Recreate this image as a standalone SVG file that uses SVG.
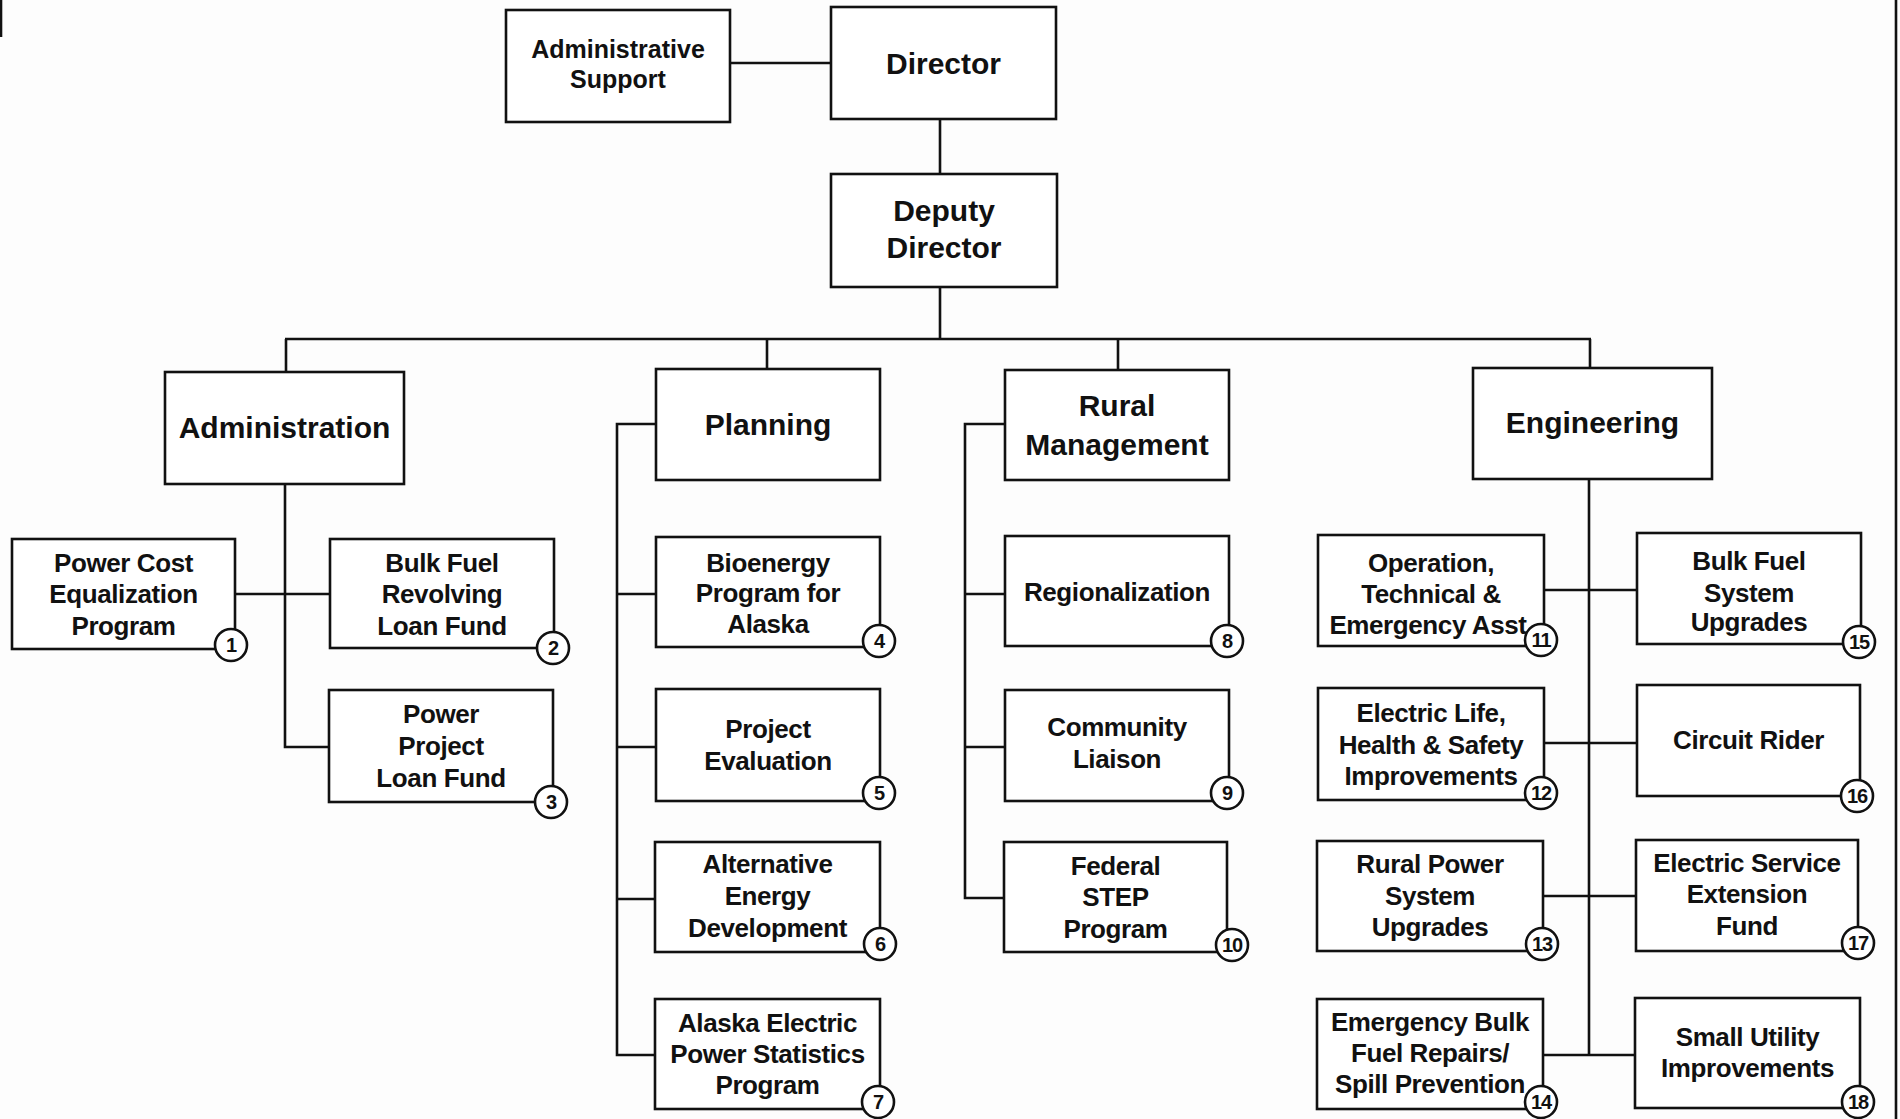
<svg xmlns="http://www.w3.org/2000/svg" width="1900" height="1119" viewBox="0 0 1900 1119">
<style>
.box{fill:#fff;stroke:#111;stroke-width:2.6}
.ln{fill:none;stroke:#111;stroke-width:2.6}
.hdr{font-family:"Liberation Sans",Arial,sans-serif;font-weight:bold;font-size:30px;fill:#111;text-anchor:middle}
.sup{font-family:"Liberation Sans",Arial,sans-serif;font-weight:bold;font-size:25px;fill:#111;text-anchor:middle}
.lbl{font-family:"Liberation Sans",Arial,sans-serif;font-weight:bold;font-size:26px;letter-spacing:-0.4px;fill:#111;text-anchor:middle}
.bc{fill:#fff;stroke:#111;stroke-width:2.6}
.num{font-family:"Liberation Sans",Arial,sans-serif;font-weight:bold;font-size:20px;letter-spacing:-1px;fill:#111;text-anchor:middle}
</style>
<rect x="0" y="0" width="1900" height="1119" fill="#fdfdfd"/>
<g id="edges">
<line class="ln" x1="1" y1="0" x2="1" y2="37" stroke-width="3"/>
<line class="ln" x1="1896" y1="0" x2="1896" y2="1119" stroke-width="2"/>
</g>
<g id="connectors">
<line class="ln" x1="730" y1="63" x2="831" y2="63"/>
<line class="ln" x1="940" y1="119" x2="940" y2="174"/>
<line class="ln" x1="940" y1="287" x2="940" y2="339"/>
<line class="ln" x1="285" y1="339" x2="1591" y2="339"/>
<line class="ln" x1="286" y1="339" x2="286" y2="372"/>
<line class="ln" x1="767" y1="339" x2="767" y2="369"/>
<line class="ln" x1="1118" y1="339" x2="1118" y2="370"/>
<line class="ln" x1="1590" y1="339" x2="1590" y2="368"/>
<polyline class="ln" points="285,484 285,747 329,747"/>
<line class="ln" x1="235" y1="594" x2="330" y2="594"/>
<polyline class="ln" points="656,424 617,424 617,1055 655,1055"/>
<line class="ln" x1="617" y1="594" x2="656" y2="594"/>
<line class="ln" x1="617" y1="747" x2="656" y2="747"/>
<line class="ln" x1="617" y1="899" x2="655" y2="899"/>
<polyline class="ln" points="1005,424 965,424 965,898 1004,898"/>
<line class="ln" x1="965" y1="594" x2="1005" y2="594"/>
<line class="ln" x1="965" y1="747" x2="1005" y2="747"/>
<line class="ln" x1="1589" y1="479" x2="1589" y2="1055"/>
<line class="ln" x1="1544" y1="590" x2="1637" y2="590"/>
<line class="ln" x1="1544" y1="743" x2="1637" y2="743"/>
<line class="ln" x1="1543" y1="896" x2="1636" y2="896"/>
<line class="ln" x1="1543" y1="1055" x2="1635" y2="1055"/>
</g>
<g id="admin-support"><rect class="box" x="506" y="10" width="224" height="112"/><text class="sup" x="618" y="58">Administrative</text><text class="sup" x="618" y="88">Support</text></g>
<g id="director"><rect class="box" x="831" y="7" width="225" height="112"/><text class="hdr" x="943.5" y="74">Director</text></g>
<g id="deputy-director"><rect class="box" x="831" y="174" width="226" height="113"/><text class="hdr" x="944" y="221">Deputy</text><text class="hdr" x="944" y="258">Director</text></g>
<g id="administration"><rect class="box" x="165" y="372" width="239" height="112"/><text class="hdr" x="284.5" y="438">Administration</text></g>
<g id="planning"><rect class="box" x="656" y="369" width="224" height="111"/><text class="hdr" x="768" y="435">Planning</text></g>
<g id="rural-management"><rect class="box" x="1005" y="370" width="224" height="110"/><text class="hdr" x="1117" y="416">Rural</text><text class="hdr" x="1117" y="455">Management</text></g>
<g id="engineering"><rect class="box" x="1473" y="368" width="239" height="111"/><text class="hdr" x="1592.5" y="433">Engineering</text></g>

<g id="n1"><rect class="box" x="12" y="539" width="223" height="110"/><text class="lbl" x="123.5" y="572">Power Cost</text><text class="lbl" x="123.5" y="603">Equalization</text><text class="lbl" x="123.5" y="635">Program</text><circle class="bc" cx="231" cy="645" r="16"/><text class="num" x="231" y="652">1</text></g>
<g id="n2"><rect class="box" x="330" y="539" width="224" height="109"/><text class="lbl" x="442" y="572">Bulk Fuel</text><text class="lbl" x="442" y="603">Revolving</text><text class="lbl" x="442" y="635">Loan Fund</text><circle class="bc" cx="553" cy="648" r="16"/><text class="num" x="553" y="655">2</text></g>
<g id="n3"><rect class="box" x="329" y="690" width="224" height="112"/><text class="lbl" x="441" y="723">Power</text><text class="lbl" x="441" y="755">Project</text><text class="lbl" x="441" y="787">Loan Fund</text><circle class="bc" cx="551" cy="802" r="16"/><text class="num" x="551" y="809">3</text></g>
<g id="n4"><rect class="box" x="656" y="537" width="224" height="110"/><text class="lbl" x="768" y="572">Bioenergy</text><text class="lbl" x="768" y="602">Program for</text><text class="lbl" x="768" y="633">Alaska</text><circle class="bc" cx="879" cy="641" r="16"/><text class="num" x="879" y="648">4</text></g>
<g id="n5"><rect class="box" x="656" y="689" width="224" height="112"/><text class="lbl" x="768" y="738">Project</text><text class="lbl" x="768" y="770">Evaluation</text><circle class="bc" cx="879" cy="793" r="16"/><text class="num" x="879" y="800">5</text></g>
<g id="n6"><rect class="box" x="655" y="842" width="225" height="110"/><text class="lbl" x="767.5" y="873">Alternative</text><text class="lbl" x="767.5" y="905">Energy</text><text class="lbl" x="767.5" y="937">Development</text><circle class="bc" cx="880" cy="944" r="16"/><text class="num" x="880" y="951">6</text></g>
<g id="n7"><rect class="box" x="655" y="999" width="225" height="110"/><text class="lbl" x="767.5" y="1032">Alaska Electric</text><text class="lbl" x="767.5" y="1063">Power Statistics</text><text class="lbl" x="767.5" y="1094">Program</text><circle class="bc" cx="878" cy="1102" r="16"/><text class="num" x="878" y="1109">7</text></g>
<g id="n8"><rect class="box" x="1005" y="536" width="224" height="110"/><text class="lbl" x="1117" y="601">Regionalization</text><circle class="bc" cx="1227" cy="641" r="16"/><text class="num" x="1227" y="648">8</text></g>
<g id="n9"><rect class="box" x="1005" y="690" width="224" height="111"/><text class="lbl" x="1117" y="736">Community</text><text class="lbl" x="1117" y="768">Liaison</text><circle class="bc" cx="1227" cy="793" r="16"/><text class="num" x="1227" y="800">9</text></g>
<g id="n10"><rect class="box" x="1004" y="842" width="223" height="110"/><text class="lbl" x="1115.5" y="875">Federal</text><text class="lbl" x="1115.5" y="906">STEP</text><text class="lbl" x="1115.5" y="938">Program</text><circle class="bc" cx="1232" cy="945" r="16"/><text class="num" x="1232" y="952">10</text></g>
<g id="n11"><rect class="box" x="1318" y="535" width="226" height="111"/><text class="lbl" x="1431" y="572">Operation,</text><text class="lbl" x="1431" y="603">Technical &amp;</text><text class="lbl" x="1428" y="634">Emergency Asst</text><circle class="bc" cx="1541" cy="640" r="16"/><text class="num" x="1541" y="647">11</text></g>
<g id="n12"><rect class="box" x="1318" y="688" width="226" height="112"/><text class="lbl" x="1431" y="722">Electric Life,</text><text class="lbl" x="1431" y="754">Health &amp; Safety</text><text class="lbl" x="1431" y="785">Improvements</text><circle class="bc" cx="1541" cy="793" r="16"/><text class="num" x="1541" y="800">12</text></g>
<g id="n13"><rect class="box" x="1317" y="841" width="226" height="110"/><text class="lbl" x="1430" y="873">Rural Power</text><text class="lbl" x="1430" y="905">System</text><text class="lbl" x="1430" y="936">Upgrades</text><circle class="bc" cx="1542" cy="944" r="16"/><text class="num" x="1542" y="951">13</text></g>
<g id="n14"><rect class="box" x="1317" y="999" width="226" height="110"/><text class="lbl" x="1430" y="1031">Emergency Bulk</text><text class="lbl" x="1430" y="1062">Fuel Repairs/</text><text class="lbl" x="1430" y="1093">Spill Prevention</text><circle class="bc" cx="1541" cy="1102" r="16"/><text class="num" x="1541" y="1109">14</text></g>
<g id="n15"><rect class="box" x="1637" y="533" width="224" height="111"/><text class="lbl" x="1749" y="570">Bulk Fuel</text><text class="lbl" x="1749" y="602">System</text><text class="lbl" x="1749" y="631">Upgrades</text><circle class="bc" cx="1859" cy="642" r="16"/><text class="num" x="1859" y="649">15</text></g>
<g id="n16"><rect class="box" x="1637" y="685" width="223" height="111"/><text class="lbl" x="1748.5" y="749">Circuit Rider</text><circle class="bc" cx="1857" cy="796" r="16"/><text class="num" x="1857" y="803">16</text></g>
<g id="n17"><rect class="box" x="1636" y="840" width="222" height="111"/><text class="lbl" x="1747" y="872">Electric Service</text><text class="lbl" x="1747" y="903">Extension</text><text class="lbl" x="1747" y="935">Fund</text><circle class="bc" cx="1858" cy="943" r="16"/><text class="num" x="1858" y="950">17</text></g>
<g id="n18"><rect class="box" x="1635" y="998" width="225" height="110"/><text class="lbl" x="1747.5" y="1046">Small Utility</text><text class="lbl" x="1747.5" y="1077">Improvements</text><circle class="bc" cx="1858" cy="1102" r="16"/><text class="num" x="1858" y="1109">18</text></g>
</svg>
